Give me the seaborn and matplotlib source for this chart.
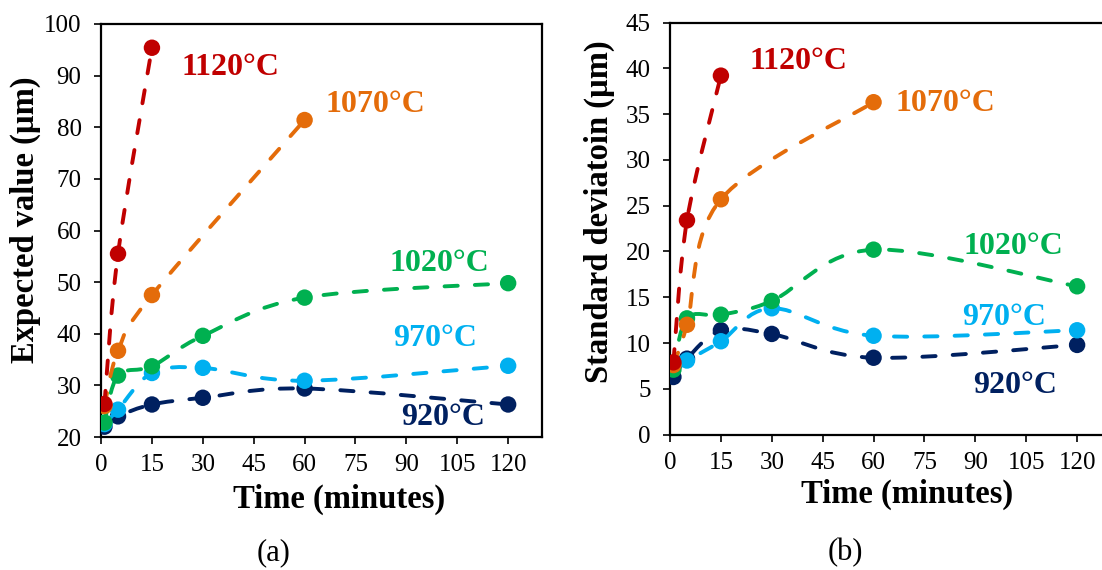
import numpy as np
import pandas as pd
import matplotlib
matplotlib.use('Agg')
import matplotlib.pyplot as plt
import seaborn as sns
from matplotlib.path import Path
from matplotlib.patches import PathPatch

# time points (minutes)
time_all = [1, 5, 15, 30, 60, 120]
time_1070 = [1, 5, 15, 60]
time_1120 = [1, 5, 15]

# expected value (um)
mean_920 = [22.0, 24.0, 26.3, 27.6, 29.4, 26.3]
mean_970 = [22.5, 25.3, 32.4, 33.4, 30.9, 33.8]
mean_1020 = [22.8, 31.9, 33.7, 39.6, 47.0, 49.8]
mean_1070 = [26.0, 36.7, 47.5, 81.4]
mean_1120 = [26.4, 55.5, 95.4]

# standard deviation (um)
std_920 = [6.3, 8.3, 11.4, 11.0, 8.4, 9.8]
std_970 = [7.4, 8.1, 10.2, 13.8, 10.8, 11.4]
std_1020 = [7.1, 12.7, 13.1, 14.6, 20.2, 16.2]
std_1070 = [7.6, 12.0, 25.7, 36.3]
std_1120 = [7.9, 23.4, 39.2]

labels = ['920°C', '970°C', '1020°C', '1070°C', '1120°C']
colors = ['#002060', '#00B0F0', '#00B050', '#E46C0A', '#C00000']
times = [time_all, time_all, time_all, time_1070, time_1120]
means = [mean_920, mean_970, mean_1020, mean_1070, mean_1120]
stds = [std_920, std_970, std_1020, std_1070, std_1120]

rows = []
for lab, t, m, s in zip(labels, times, means, stds):
    for ti, mi, si in zip(t, m, s):
        rows.append({'temp': lab, 'time': ti, 'mean': mi, 'std': si})
df = pd.DataFrame(rows)

sns.set_style('ticks')
plt.rcParams['font.family'] = ['Liberation Serif', 'DejaVu Serif']
plt.rcParams['text.color'] = 'black'
plt.rcParams['axes.labelcolor'] = 'black'
plt.rcParams['xtick.color'] = 'black'
plt.rcParams['ytick.color'] = 'black'


def smooth_path(xs, ys):
    # Excel-like smoothed line: cubic bezier through the data points
    pts = np.column_stack([xs, ys]).astype(float)
    n = len(pts)
    verts = [pts[0]]
    codes = [Path.MOVETO]
    for i in range(n - 1):
        p0 = pts[max(i - 1, 0)]
        p1 = pts[i]
        p2 = pts[i + 1]
        p3 = pts[min(i + 2, n - 1)]
        verts += [p1 + (p2 - p0) / 6, p2 - (p3 - p1) / 6, p2]
        codes += [Path.CURVE4] * 3
    return Path(verts, codes)


fig = plt.figure(figsize=(11.02, 5.70), dpi=100)
ax1 = fig.add_axes([0.0917, 0.2333, 0.4002, 0.7246])
ax2 = fig.add_axes([0.6080, 0.2374, 0.4002, 0.7231])

label_pos = {
    'mean': {'1120°C': (38, 91.6), '1070°C': (80.8, 84.5), '1020°C': (99.7, 53.6),
             '970°C': (98.5, 39.0), '920°C': (100.9, 23.8)},
    'std': {'1120°C': (37.8, 40.7), '1070°C': (81.1, 36.2), '1020°C': (101.2, 20.6),
            '970°C': (98.5, 12.8), '920°C': (101.8, 5.4)},
}

for ax, col in [(ax1, 'mean'), (ax2, 'std')]:
    for k, (lab, c) in enumerate(zip(labels, colors)):
        sub = df[df['temp'] == lab]
        patch = PathPatch(smooth_path(sub['time'], sub[col]), facecolor='none',
                          edgecolor=c, lw=2.8, linestyle=(0, (3.4, 4.4)),
                          capstyle='round', zorder=3 + k)
        ax.add_patch(patch)
        sns.scatterplot(data=sub, x='time', y=col, color=c, s=140, edgecolor='none',
                        ax=ax, zorder=3 + k, legend=False)
        tx, ty = label_pos[col][lab]
        ax.text(tx, ty, lab, color=c, fontsize=23, fontweight='bold',
                ha='center', va='center')

    ax.set_xlim(0, 130)
    ax.set_xticks(range(0, 121, 15))
    ax.tick_params(direction='out', length=5, width=1.2, labelsize=18)
    ax.tick_params(axis='x', pad=7.5)
    ax.tick_params(axis='y', pad=9)
    for sp in ax.spines.values():
        sp.set_linewidth(1.6)
        sp.set_color('black')
    ax.set_xlabel('Time (minutes)', fontsize=23.5, fontweight='bold')
    ax.xaxis.label.set_va('center')

ax1.set_ylim(20, 100)
ax1.set_yticks(range(20, 101, 10))
ax1.set_ylabel('Expected value (µm)', fontsize=23.5, fontweight='bold')
ax1.yaxis.label.set_va('center')
ax1.yaxis.set_label_coords(-0.172, 0.525)
ax1.xaxis.set_label_coords(0.54, -0.150)

ax2.set_ylim(0, 45)
ax2.set_yticks(range(0, 46, 5))
ax2.set_ylabel('Standard deviatoin (µm)', fontsize=23.5, fontweight='bold')
ax2.yaxis.label.set_va('center')
ax2.yaxis.set_label_coords(-0.161, 0.540)
ax2.xaxis.set_label_coords(0.537, -0.145)

fig.text(274 / 1102, 1 - 553 / 570, '(a)', ha='center', va='center', fontsize=22)
fig.text(845 / 1102, 1 - 553 / 570, '(b)', ha='center', va='center', fontsize=22)

fig.savefig('out.png', dpi=100)
